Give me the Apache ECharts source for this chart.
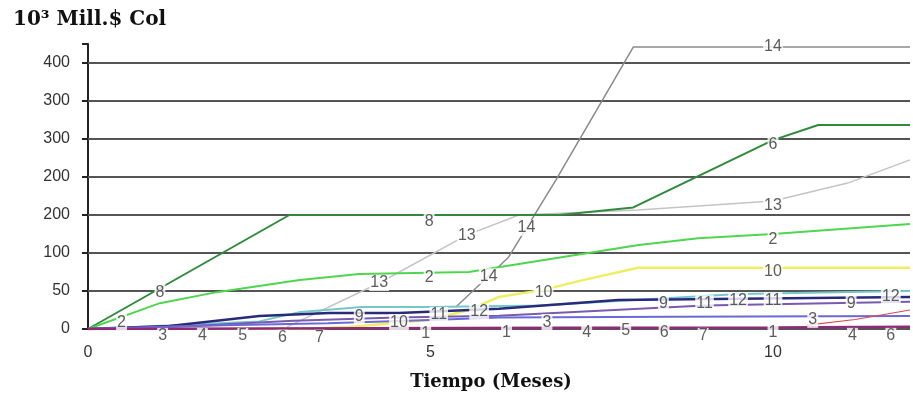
<!DOCTYPE html>
<html><head><meta charset="utf-8">
<script src="https://cdn.jsdelivr.net/npm/echarts@6/dist/echarts.min.js"></script>
<style>html,body{margin:0;padding:0;background:#fff}#c{width:913px;height:409px}</style>
</head><body><div id="c"></div>
<script>
// Y tick labels as printed on the original (one per gridline level)
var yTickLabels = ['0','50','100','200','200','300','300','400'];
var gridLevels = [0,1,2,3,4,5,6,7];
var xTickLabels = {0:'0',5:'5',10:'10'};

// Series values: [mes, nivel en la escala del gráfico]
var sDarkGreen = [[0,0],[2.94,3.0],[6.88,3.0],[7.96,3.2],[10,4.97],[10.66,5.37],[12,5.37]];
var sLightGreen = [[0,0],[1.05,0.68],[1.88,0.97],[3.09,1.29],[3.96,1.45],[5.56,1.5],[6.29,1.71],[8.04,2.21],[8.91,2.39],[10,2.5],[12,2.76]];
var sGrey14 = [[5.37,0.58],[6.14,1.89],[6.83,3.92],[7.96,7.42],[12,7.42]];
var sGrey13 = [[2.9,0.05],[4.25,1.21],[5.53,2.47],[6.29,3.0],[8.03,3.13],[10,3.37],[11.09,3.84],[12,4.45]];
var sYellow = [[0,0],[3.1,0],[3.8,0.05],[4.98,0.24],[5.56,0.5],[5.99,0.84],[6.65,1.03],[7.16,1.26],[8.03,1.61],[12,1.61]];
var sNavy = [[0,0],[1.19,0.08],[2.5,0.34],[3.52,0.42],[4.54,0.42],[6.0,0.53],[7.74,0.76],[12,0.84]];
var sTeal = [[0,0],[2.5,0.2],[3.1,0.45],[4.0,0.58],[5.0,0.58],[6.6,0.62],[9.5,0.92],[12,1.0]];
var sPurple = [[0,0],[1.5,0.08],[3.0,0.22],[4.5,0.3],[6.0,0.35],[9.0,0.62],[12,0.72]];
var sBlue = [[0,0],[2.0,0.1],[3.5,0.15],[5.0,0.24],[6.0,0.3],[8.5,0.32],[12,0.34]];
var sMagenta = [[0,0],[4.0,0.02],[7.0,0.03],[10,0.04],[12,0.06]];
var sRed = [[10.5,0.1],[11.2,0.25],[12,0.5]];

// Line identifiers printed along the curves: [mes, nivel, texto]
var lineTags = [
 [1.05,0.97,'8'],[4.98,2.82,'8'],[10,4.84,'6'],[10,7.42,'14'],
 [5.53,2.47,'13'],[6.4,2.66,'14'],[4.25,1.21,'13'],[4.98,1.34,'2'],[5.85,1.39,'14'],
 [10,3.26,'13'],[10,2.34,'2'],[10,1.5,'10'],[6.65,0.97,'10'],
 [0.49,0.18,'2'],[1.09,-0.18,'3'],[1.67,-0.18,'4'],[2.26,-0.18,'5'],[2.84,-0.23,'6'],[3.38,-0.23,'7'],
 [3.96,0.32,'9'],[4.54,0.18,'10'],[5.12,0.37,'11'],[5.71,0.45,'12'],
 [4.93,-0.12,'1'],[6.11,-0.1,'1'],[6.7,0.18,'3'],[7.28,-0.1,'4'],[7.85,-0.05,'5'],[8.41,-0.1,'6'],[8.98,-0.18,'7'],
 [8.4,0.68,'9'],[9.0,0.68,'11'],[9.49,0.76,'12'],[10,0.76,'11'],[10,-0.1,'1'],
 [10.58,0.24,'3'],[11.14,0.68,'9'],[11.16,-0.18,'4'],[11.72,0.84,'12'],[11.72,-0.18,'6']
];

function line(name, data, color, width, z){
  return {name:name,type:'line',data:data,symbol:'none',smooth:false,z:z||3,
    lineStyle:{color:color,width:width},itemStyle:{color:color},silent:true};
}

var chart = echarts.init(document.getElementById('c'), null, {renderer:'canvas'});
chart.setOption({
  animation:false,
  backgroundColor:'#fff',
  title:{text:'10³ Mill.$ Col',left:8,top:5,
    textStyle:{fontFamily:'DejaVu Serif',fontWeight:'bold',fontSize:20,color:'#111'}},
  grid:{left:88,right:0,top:44,bottom:80},
  xAxis:{type:'value',min:0,max:12,interval:5,
    name:'Tiempo (Meses)',nameLocation:'middle',nameGap:44,
    nameTextStyle:{fontFamily:'DejaVu Serif',fontWeight:'bold',fontSize:18,color:'#111',padding:[0,16,0,0]},
    axisLine:{show:false},axisTick:{show:false},splitLine:{show:false},
    axisLabel:{margin:16,fontFamily:'Liberation Sans',fontSize:16,color:'#333',
      formatter:function(v){return xTickLabels[v]!==undefined?xTickLabels[v]:'';}}},
  yAxis:{type:'value',min:0,max:7.5,interval:1,
    axisLine:{show:true,lineStyle:{color:'#222',width:2}},
    axisTick:{show:true,length:6,lineStyle:{color:'#222',width:2}},
    splitLine:{show:false},
    axisLabel:{margin:18,fontFamily:'Liberation Sans',fontSize:16,color:'#333',
      formatter:function(v){var i=gridLevels.indexOf(v);return i>=0?yTickLabels[i]:'';}}},
  series:[
    {type:'line',data:[],silent:true,z:1,
      markLine:{silent:true,symbol:'none',z:1,label:{show:false},
        lineStyle:{color:'#555',width:2,type:'solid'},
        data:gridLevels.map(function(v){return {yAxis:v};})}},
    line('13',sGrey13,'#c4c4c4',1.5,3),
    line('14',sGrey14,'#8a8a8a',1.5,3),
    line('8',sDarkGreen,'#2f8a3c',2,4),
    line('2',sLightGreen,'#4fd64f',2,4),
    line('10',sYellow,'#eeee60',2.5,4),
    line('12',sTeal,'#74c8cc',2,4),
    line('9',sNavy,'#2a2a7c',2.5,5),
    line('11',sPurple,'#7a5ab0',2,5),
    line('3',sBlue,'#6a6ad6',2,5),
    line('1',sMagenta,'#8e2a78',2.5,5),
    line('r',sRed,'#e04848',1.2,5),
    {type:'scatter',data:lineTags,symbolSize:0,silent:true,z:10,clip:false,
      label:{show:true,position:'inside',formatter:function(p){return p.value[2];},
        fontFamily:'Liberation Sans',fontSize:16,color:'#333',
        backgroundColor:'#fff',padding:[0,1]}}
  ]
});
</script></body></html>
